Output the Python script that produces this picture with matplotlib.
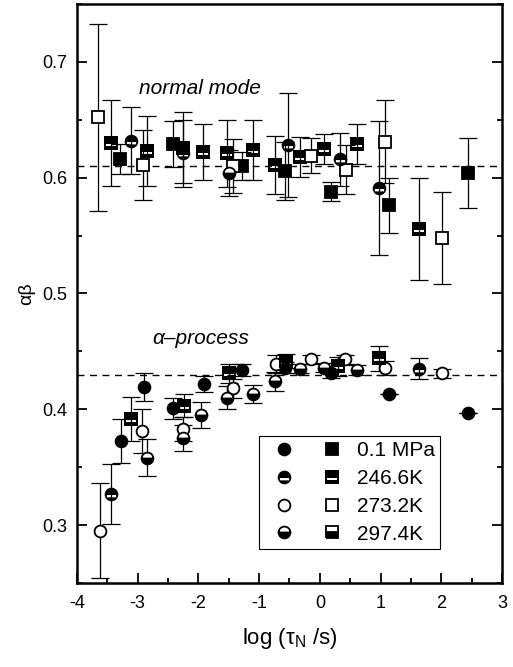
import matplotlib
matplotlib.use('Agg')
import matplotlib.pyplot as plt
from matplotlib.path import Path
from matplotlib.lines import Line2D
from matplotlib.legend_handler import HandlerTuple
from matplotlib.ticker import MultipleLocator, FormatStrFormatter

plt.rcParams['font.family'] = ['Liberation Sans', 'DejaVu Sans']
plt.rcParams['axes.unicode_minus'] = False

labels = ['0.1 MPa', '246.6K', '273.2K', '297.4K']

# normal mode, squares
nm_sq_x_01 = [-3.29, -2.42, -1.28, -0.57, 0.18, 1.14, 2.44]
nm_sq_y_01 = [0.616, 0.629, 0.610, 0.606, 0.588, 0.576, 0.604]
nm_sq_e_01 = [0.013, 0.020, 0.012, 0.025, 0.008, 0.024, 0.030]

nm_sq_x_246 = [-3.44, -2.85, -2.25, -1.93, -1.53, -1.10, -0.74, -0.33, 0.07, 0.61, 1.63]
nm_sq_y_246 = [0.630, 0.623, 0.626, 0.622, 0.621, 0.624, 0.611, 0.618, 0.625, 0.629, 0.556]
nm_sq_e_246 = [0.037, 0.030, 0.031, 0.024, 0.029, 0.026, 0.025, 0.017, 0.013, 0.017, 0.044]

nm_sq_x_273 = [-3.65, -2.91, -1.43, -0.15, 0.43, 1.07, 2.01]
nm_sq_y_273 = [0.652, 0.611, 0.610, 0.619, 0.607, 0.631, 0.548]
nm_sq_e_273 = [0.081, 0.030, 0.023, 0.015, 0.021, 0.036, 0.040]

# normal mode, circles
nm_ci_x_246 = [-3.11, -2.25, -0.52, 0.33, 0.97]
nm_ci_y_246 = [0.632, 0.621, 0.628, 0.616, 0.591]
nm_ci_e_246 = [0.029, 0.029, 0.045, 0.023, 0.058]

nm_ci_x_297 = [-1.50]
nm_ci_y_297 = [0.604]
nm_ci_e_297 = [0.020]

# alpha process, circles
ap_ci_x_01 = [-3.28, -2.90, -2.42, -1.91, -1.28, -0.57, 0.18, 1.14, 2.44]
ap_ci_y_01 = [0.373, 0.419, 0.401, 0.422, 0.434, 0.436, 0.431, 0.413, 0.397]
ap_ci_e_01 = [0.019, 0.012, 0.009, 0.007, 0.005, 0.005, 0.004, 0.0, 0.0]

ap_ci_x_246 = [-3.44, 1.63]
ap_ci_y_246 = [0.327, 0.435]
ap_ci_e_246 = [0.026, 0.009]

ap_ci_x_273 = [-3.62, -2.93, -2.25, -1.43, -0.72, -0.15, 0.41, 1.07, 2.01]
ap_ci_y_273 = [0.295, 0.381, 0.383, 0.418, 0.439, 0.443, 0.443, 0.436, 0.431]
ap_ci_e_273 = [0.041, 0.019, 0.010, 0.008, 0.008, 0.004, 0.004, 0.006, 0.004]

ap_ci_x_297 = [-2.85, -2.25, -1.96, -1.53, -1.10, -0.74, -0.33, 0.07, 0.61]
ap_ci_y_297 = [0.358, 0.375, 0.395, 0.410, 0.413, 0.424, 0.435, 0.436, 0.434]
ap_ci_e_297 = [0.016, 0.011, 0.011, 0.010, 0.008, 0.008, 0.004, 0.004, 0.004]

# alpha process, squares
ap_sq_x_246 = [-3.11, -2.24, -1.50, -0.56, 0.30, 0.97]
ap_sq_y_246 = [0.392, 0.403, 0.431, 0.442, 0.437, 0.444]
ap_sq_e_246 = [0.019, 0.010, 0.008, 0.006, 0.008, 0.011]


def banded(outer):
    # black marker with a white horizontal band just below the centre
    # (hole drawn clockwise, outline counter-clockwise)
    hole = Path([(-0.68, -0.08), (0.68, -0.08), (0.68, -0.42), (-0.68, -0.42), (-0.68, -0.08)],
                [Path.MOVETO, Path.LINETO, Path.LINETO, Path.LINETO, Path.CLOSEPOLY])
    return Path.make_compound_path(outer, hole)


circ_band = banded(Path.unit_circle())
sq_band = banded(Path([(-1, -1), (1, -1), (1, 1), (-1, 1), (-1, -1)],
                      [Path.MOVETO, Path.LINETO, Path.LINETO, Path.LINETO, Path.CLOSEPOLY]))

ms = 8.5
mew = 1.3
styles = {
    '01': dict(mfc='black', mec='black', mew=mew, ms=ms),
    '246': dict(mfc='black', mec='none', mew=0, ms=ms + mew),
    '273': dict(mfc='white', mec='black', mew=mew, ms=ms),
    '297': dict(mfc='black', mec='black', mew=mew, ms=ms, fillstyle='bottom',
                markerfacecoloralt='white'),
}
markers = {
    ('o', '01'): 'o', ('s', '01'): 's',
    ('o', '246'): circ_band, ('s', '246'): sq_band,
    ('o', '273'): 'o', ('s', '273'): 's',
    ('o', '297'): 'o', ('s', '297'): 's',
}

fig = plt.figure(figsize=(5.13, 6.67), dpi=100)
ax = fig.add_axes([0.150, 0.126, 0.8286, 0.868])


def draw(x, y, e, shape, key):
    ax.errorbar(x, y, yerr=e, fmt='none', ecolor='black', elinewidth=0.9,
                capsize=6.5, capthick=0.9, zorder=2)
    ax.plot(x, y, linestyle='none', marker=markers[(shape, key)], zorder=3, **styles[key])


draw(nm_sq_x_01, nm_sq_y_01, nm_sq_e_01, 's', '01')
draw(nm_sq_x_246, nm_sq_y_246, nm_sq_e_246, 's', '246')
draw(nm_sq_x_273, nm_sq_y_273, nm_sq_e_273, 's', '273')
draw(nm_ci_x_246, nm_ci_y_246, nm_ci_e_246, 'o', '246')
draw(nm_ci_x_297, nm_ci_y_297, nm_ci_e_297, 'o', '297')

draw(ap_ci_x_01, ap_ci_y_01, ap_ci_e_01, 'o', '01')
draw(ap_ci_x_246, ap_ci_y_246, ap_ci_e_246, 'o', '246')
draw(ap_ci_x_273, ap_ci_y_273, ap_ci_e_273, 'o', '273')
draw(ap_ci_x_297, ap_ci_y_297, ap_ci_e_297, 'o', '297')
draw(ap_sq_x_246, ap_sq_y_246, ap_sq_e_246, 's', '246')

ax.axhline(0.61, color='black', lw=1.0, ls=(0, (5, 4)), zorder=1)
ax.axhline(0.43, color='black', lw=1.0, ls=(0, (5, 4)), zorder=1)

ax.text(-1.97, 0.677, 'normal mode', style='italic', ha='center', va='center', fontsize=15)
ax.text(-1.97, 0.461, 'α–process', style='italic', ha='center', va='center', fontsize=15)

ax.set_xlim(-4, 3)
ax.set_ylim(0.25, 0.75)
ax.xaxis.set_major_locator(MultipleLocator(1))
ax.xaxis.set_minor_locator(MultipleLocator(0.5))
ax.yaxis.set_major_locator(MultipleLocator(0.1))
ax.yaxis.set_minor_locator(MultipleLocator(0.05))
ax.yaxis.set_major_formatter(FormatStrFormatter('%.1f'))
ax.tick_params(which='both', direction='in', right=True, top=False, width=1.3)
ax.tick_params(which='major', length=7, labelsize=13, pad=7)
ax.tick_params(which='minor', length=3.5)
ax.tick_params(axis='x', which='major', pad=9)
for sp in ax.spines.values():
    sp.set_linewidth(1.8)

ax.set_xlabel('log (τ$_\\mathregular{N}$ /s)', fontsize=16, labelpad=10)
ax.set_ylabel('αβ', fontsize=14, labelpad=5)

handles = []
for key in ['01', '246', '273', '297']:
    hc = Line2D([], [], ls='none', marker=markers[('o', key)], **styles[key])
    hs = Line2D([], [], ls='none', marker=markers[('s', key)], **styles[key])
    handles.append((hc, hs))
leg = ax.legend(handles, labels, handler_map={tuple: HandlerTuple(ndivide=None, pad=0.38)},
                loc='lower left', bbox_to_anchor=(0.428, 0.059), fontsize=15,
                handlelength=4.2, handletextpad=0.25, labelspacing=0.42,
                borderpad=0.25, borderaxespad=0, fancybox=False, framealpha=1,
                edgecolor='black')
leg.get_frame().set_linewidth(0.8)

fig.savefig('out.png', dpi=100)
